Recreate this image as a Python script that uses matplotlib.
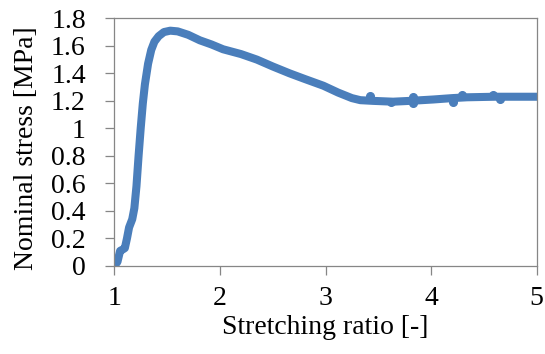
import matplotlib
matplotlib.use("Agg")
import matplotlib.pyplot as plt
from matplotlib.ticker import FuncFormatter

# Main curve (stretching ratio, nominal stress)
ratio = [1.00, 1.03, 1.055, 1.08, 1.10, 1.12, 1.14, 1.17, 1.19, 1.21, 1.23, 1.25,
         1.27, 1.29, 1.32, 1.35, 1.38, 1.42, 1.47, 1.53, 1.60, 1.70, 1.81, 1.92,
         2.03, 2.20, 2.35, 2.50, 2.66, 2.80, 2.98, 3.12, 3.25, 3.33, 3.45, 3.64,
         3.80, 4.02, 4.20, 4.34, 4.60, 4.80, 5.00]
stress = [0.00, 0.03, 0.11, 0.12, 0.13, 0.20, 0.28, 0.34, 0.42, 0.58, 0.80, 1.00,
          1.18, 1.32, 1.47, 1.57, 1.63, 1.67, 1.70, 1.71, 1.705, 1.68, 1.64, 1.61,
          1.575, 1.54, 1.50, 1.45, 1.40, 1.36, 1.31, 1.26, 1.22, 1.205, 1.20, 1.194,
          1.20, 1.21, 1.22, 1.226, 1.23, 1.23, 1.23]

# Scattered noisy points on the plateau
noise_ratio = [3.42, 3.62, 3.83, 3.83, 4.21, 4.29, 4.59, 4.65]
noise_stress = [1.235, 1.19, 1.225, 1.185, 1.195, 1.24, 1.245, 1.21]

x_ticks = [1, 2, 3, 4, 5]
y_ticks = [0, 0.2, 0.4, 0.6, 0.8, 1.0, 1.2, 1.4, 1.6, 1.8]

color = "#4A7EBB"
spine_color = "#868686"

plt.rcParams['font.family'] = ['Liberation Serif', 'DejaVu Serif']

fig = plt.figure(figsize=(5.45, 3.54), dpi=100)
ax = fig.add_axes([0.2097, 0.2486, 0.7751, 0.6997])

ax.plot(ratio, stress, color=color, lw=5.8, solid_capstyle='round',
        solid_joinstyle='round')
ax.plot(noise_ratio, noise_stress, 'o', color=color, ms=5.5, mec=color)

ax.set_xlim(1, 5)
ax.set_ylim(0, 1.8)
ax.set_xticks(x_ticks)
ax.set_yticks(y_ticks)
ax.yaxis.set_major_formatter(FuncFormatter(lambda v, p: f"{v:g}"))

for s in ax.spines.values():
    s.set_color(spine_color)
    s.set_linewidth(0.9)

ax.tick_params(axis='both', direction='out', length=6.5, width=0.9,
               color=spine_color, labelsize=20)
ax.tick_params(axis='x', pad=8)
ax.tick_params(axis='y', pad=14)

ax.set_xlabel("Stretching ratio [-]", fontsize=20, labelpad=3)
ax.set_ylabel("Nominal stress [MPa]", fontsize=20, labelpad=9)
ax.yaxis.label.set_y(0.475)

fig.savefig("out.png", dpi=100)
